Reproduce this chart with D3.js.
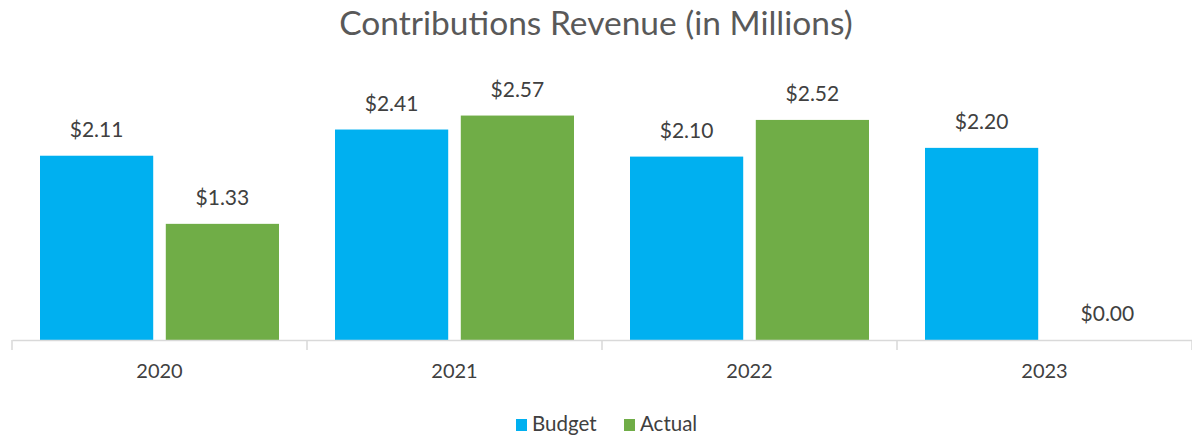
<!DOCTYPE html>
<html>
<head>
<meta charset="utf-8">
<script src="https://cdn.jsdelivr.net/npm/d3@7"></script>
<style>
  html, body { margin: 0; padding: 0; background: #fff; }
  svg { display: block; font-family: Lato, "Open Sans", sans-serif; }
</style>
</head>
<body>
<svg id="chart" width="1192" height="436"></svg>
<script>
// Contributions revenue by year, in millions of dollars
const years = ["2020", "2021", "2022", "2023"];
const seriesNames = ["Budget", "Actual"];
const budget = [2.11, 2.41, 2.10, 2.20];
const actual = [1.33, 2.57, 2.52, 0.00];
const seriesColors = ["#00B0F0", "#70AD47"];

const width = 1192, height = 436;
const svg = d3.select("#chart");

const plot = { left: 12, right: 1192, top: 78, bottom: 340 };

const x = d3.scaleBand()
  .domain(years)
  .range([plot.left, plot.right])
  .paddingInner(0)
  .paddingOuter(0);

const xInner = d3.scaleBand()
  .domain(seriesNames)
  .range([28, x.bandwidth() - 28])
  .paddingInner(0.1);

const y = d3.scaleLinear()
  .domain([0, 3])
  .range([plot.bottom, plot.top]);

const rows = years.map((yr, i) => ({ year: yr, values: [budget[i], actual[i]] }));

// Title
svg.append("text")
  .attr("x", width / 2)
  .attr("y", 35)
  .attr("text-anchor", "middle")
  .attr("fill", "#595959")
  .attr("font-size", 33.5)
  .text("Contributions Revenue (in Millions)");

// Bars and value labels
const groups = svg.append("g").selectAll("g")
  .data(rows)
  .join("g")
  .attr("transform", d => `translate(${x(d.year)},0)`);

groups.selectAll("rect")
  .data(d => d.values.map((v, j) => ({ name: seriesNames[j], value: v, color: seriesColors[j] })))
  .join("rect")
  .attr("x", d => xInner(d.name))
  .attr("width", xInner.bandwidth())
  .attr("y", d => y(d.value))
  .attr("height", d => y(0) - y(d.value))
  .attr("fill", d => d.color);

groups.selectAll("text.value")
  .data(d => d.values.map((v, j) => ({ name: seriesNames[j], value: v })))
  .join("text")
  .attr("class", "value")
  .attr("x", d => xInner(d.name) + xInner.bandwidth() / 2)
  .attr("y", d => y(d.value) - 19)
  .attr("text-anchor", "middle")
  .attr("fill", "#404040")
  .attr("font-size", 21)
  .text(d => "$" + d3.format(".2f")(d.value));

// Category axis
const xAxis = d3.axisBottom(x).tickSize(0).tickPadding(24);
const axisG = svg.append("g")
  .attr("transform", `translate(0,${plot.bottom})`)
  .call(xAxis);
axisG.select(".domain").attr("stroke", "#d9d9d9").attr("stroke-width", 1.5);
axisG.selectAll(".tick text")
  .attr("font-size", 20)
  .attr("font-family", "Lato, 'Open Sans', sans-serif")
  .attr("fill", "#404040");

// Category separators below the axis line
const sepPositions = years.map(yr => x(yr)).concat([x(years[years.length - 1]) + x.bandwidth()]);
svg.append("g").selectAll("line")
  .data(sepPositions)
  .join("line")
  .attr("x1", d => d).attr("x2", d => d)
  .attr("y1", plot.bottom).attr("y2", plot.bottom + 10)
  .attr("stroke", "#d9d9d9")
  .attr("stroke-width", 1.5);

// Legend
const legend = svg.append("g").attr("transform", "translate(516,431)");
const legendOffsets = [0, 108];
seriesNames.forEach((name, i) => {
  const g = legend.append("g").attr("transform", `translate(${legendOffsets[i]},0)`);
  g.append("rect")
    .attr("x", 0).attr("y", -12)
    .attr("width", 11).attr("height", 12)
    .attr("fill", seriesColors[i]);
  g.append("text")
    .attr("x", 16).attr("y", 0)
    .attr("fill", "#404040")
    .attr("font-size", 20.5)
    .text(name);
});
</script>
</body>
</html>
